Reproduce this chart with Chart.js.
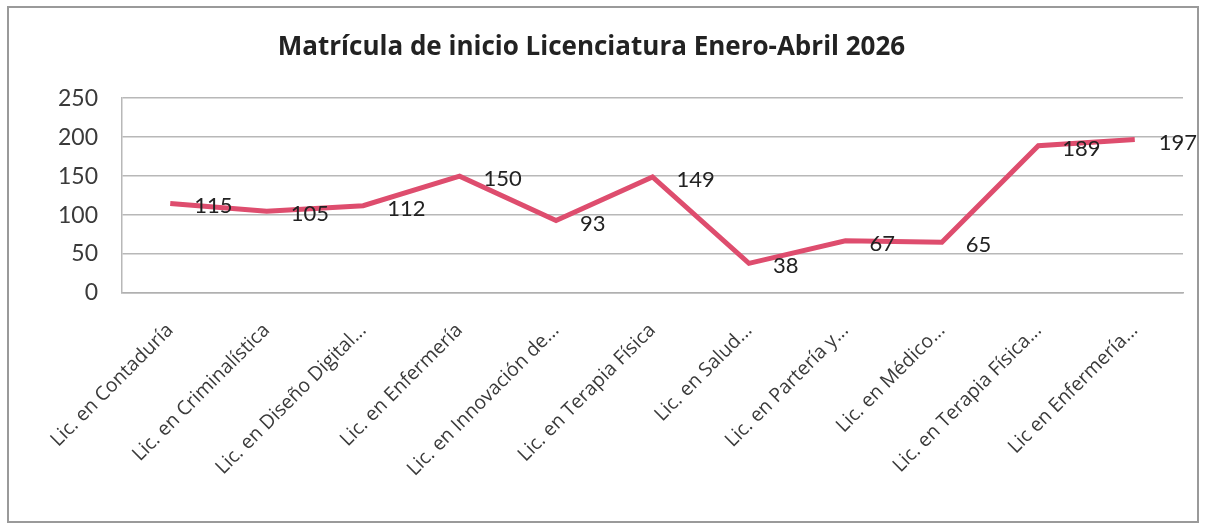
<!DOCTYPE html>
<html>
<head>
<meta charset="utf-8">
<script src="https://cdn.jsdelivr.net/npm/chart.js@4/dist/chart.umd.min.js"></script>
<style>
  html, body { margin: 0; padding: 0; background: #fff; }
  #wrap { position: relative; width: 1205px; height: 527px; }
</style>
</head>
<body>
<div id="wrap"><canvas id="c" width="1205" height="527"></canvas></div>
<script>
const TITLE = 'Matrícula de inicio Licenciatura Enero-Abril 2026';
const categories = [
  'Lic. en Contaduría',
  'Lic. en Criminalística',
  'Lic. en Diseño Digital...',
  'Lic. en Enfermería',
  'Lic. en Innovación de...',
  'Lic. en Terapia Física',
  'Lic. en Salud...',
  'Lic. en Partería y...',
  'Lic. en Médico...',
  'Lic. en Terapia Física...',
  'Lic en Enfermería...'
];
const values = [115, 105, 112, 150, 93, 149, 38, 67, 65, 189, 197];
const yTicks = [0, 50, 100, 150, 200, 250];

const FONT = 'Lato, "Open Sans", sans-serif';
const FONT2 = '"Open Sans", Lato, sans-serif';
const TEXT = '#3a3a3a';

const frame = {
  id: 'frame',
  beforeDraw(chart) {
    const ctx = chart.ctx;
    ctx.save();
    ctx.fillStyle = '#fff';
    ctx.fillRect(0, 0, chart.width, chart.height);
    ctx.strokeStyle = '#9a9a9a';
    ctx.lineWidth = 2;
    ctx.strokeRect(8, 7, 1190, 515);
    ctx.restore();
  },
  afterDatasetsDraw(chart) {
    const ctx = chart.ctx;
    const meta = chart.getDatasetMeta(0);
    ctx.save();
    ctx.font = '22px ' + FONT;
    ctx.fillStyle = '#222';
    ctx.textAlign = 'left';
    ctx.textBaseline = 'middle';
    meta.data.forEach((pt, i) => {
      ctx.fillText(String(values[i]), pt.x + 24, pt.y + 3);
    });
    ctx.restore();
  }
};

new Chart(document.getElementById('c'), {
  type: 'line',
  data: {
    labels: categories,
    datasets: [{
      data: values,
      borderColor: '#de4d6e',
      borderWidth: 5,
      pointRadius: 0,
      tension: 0,
      fill: false
    }]
  },
  options: {
    responsive: false,
    animation: false,
    layout: { padding: { left: 0, right: 22, top: 0, bottom: 0 } },
    plugins: {
      legend: { display: false },
      tooltip: { enabled: false },
      title: {
        display: true,
        text: TITLE,
        color: '#222',
        font: { family: FONT2, size: 26, weight: 'bold' },
        padding: { top: 32, bottom: 35 }
      }
    },
    scales: {
      x: {
        offset: true,
        grid: { display: false, drawTicks: false },
        border: { display: true, color: '#b0b0b0', width: 1.5 },
        ticks: {
          color: TEXT,
          font: { family: FONT2, size: 19.5 },
          minRotation: 45,
          maxRotation: 45,
          autoSkip: false,
          padding: 26
        },
        afterFit(scale) { scale.height = 234; }
      },
      y: {
        min: 0,
        max: 250,
        afterBuildTicks(scale) { scale.ticks = yTicks.map(v => ({ value: v })); },
        grid: { color: '#b8b8b8', lineWidth: 1.5, drawTicks: false },
        border: { display: true, color: '#b8b8b8', width: 1.5 },
        ticks: {
          color: TEXT,
          font: { family: FONT, size: 23 },
          padding: 24
        },
        afterFit(scale) { scale.width = 122; }
      }
    }
  },
  plugins: [frame]
});
</script>
</body>
</html>
